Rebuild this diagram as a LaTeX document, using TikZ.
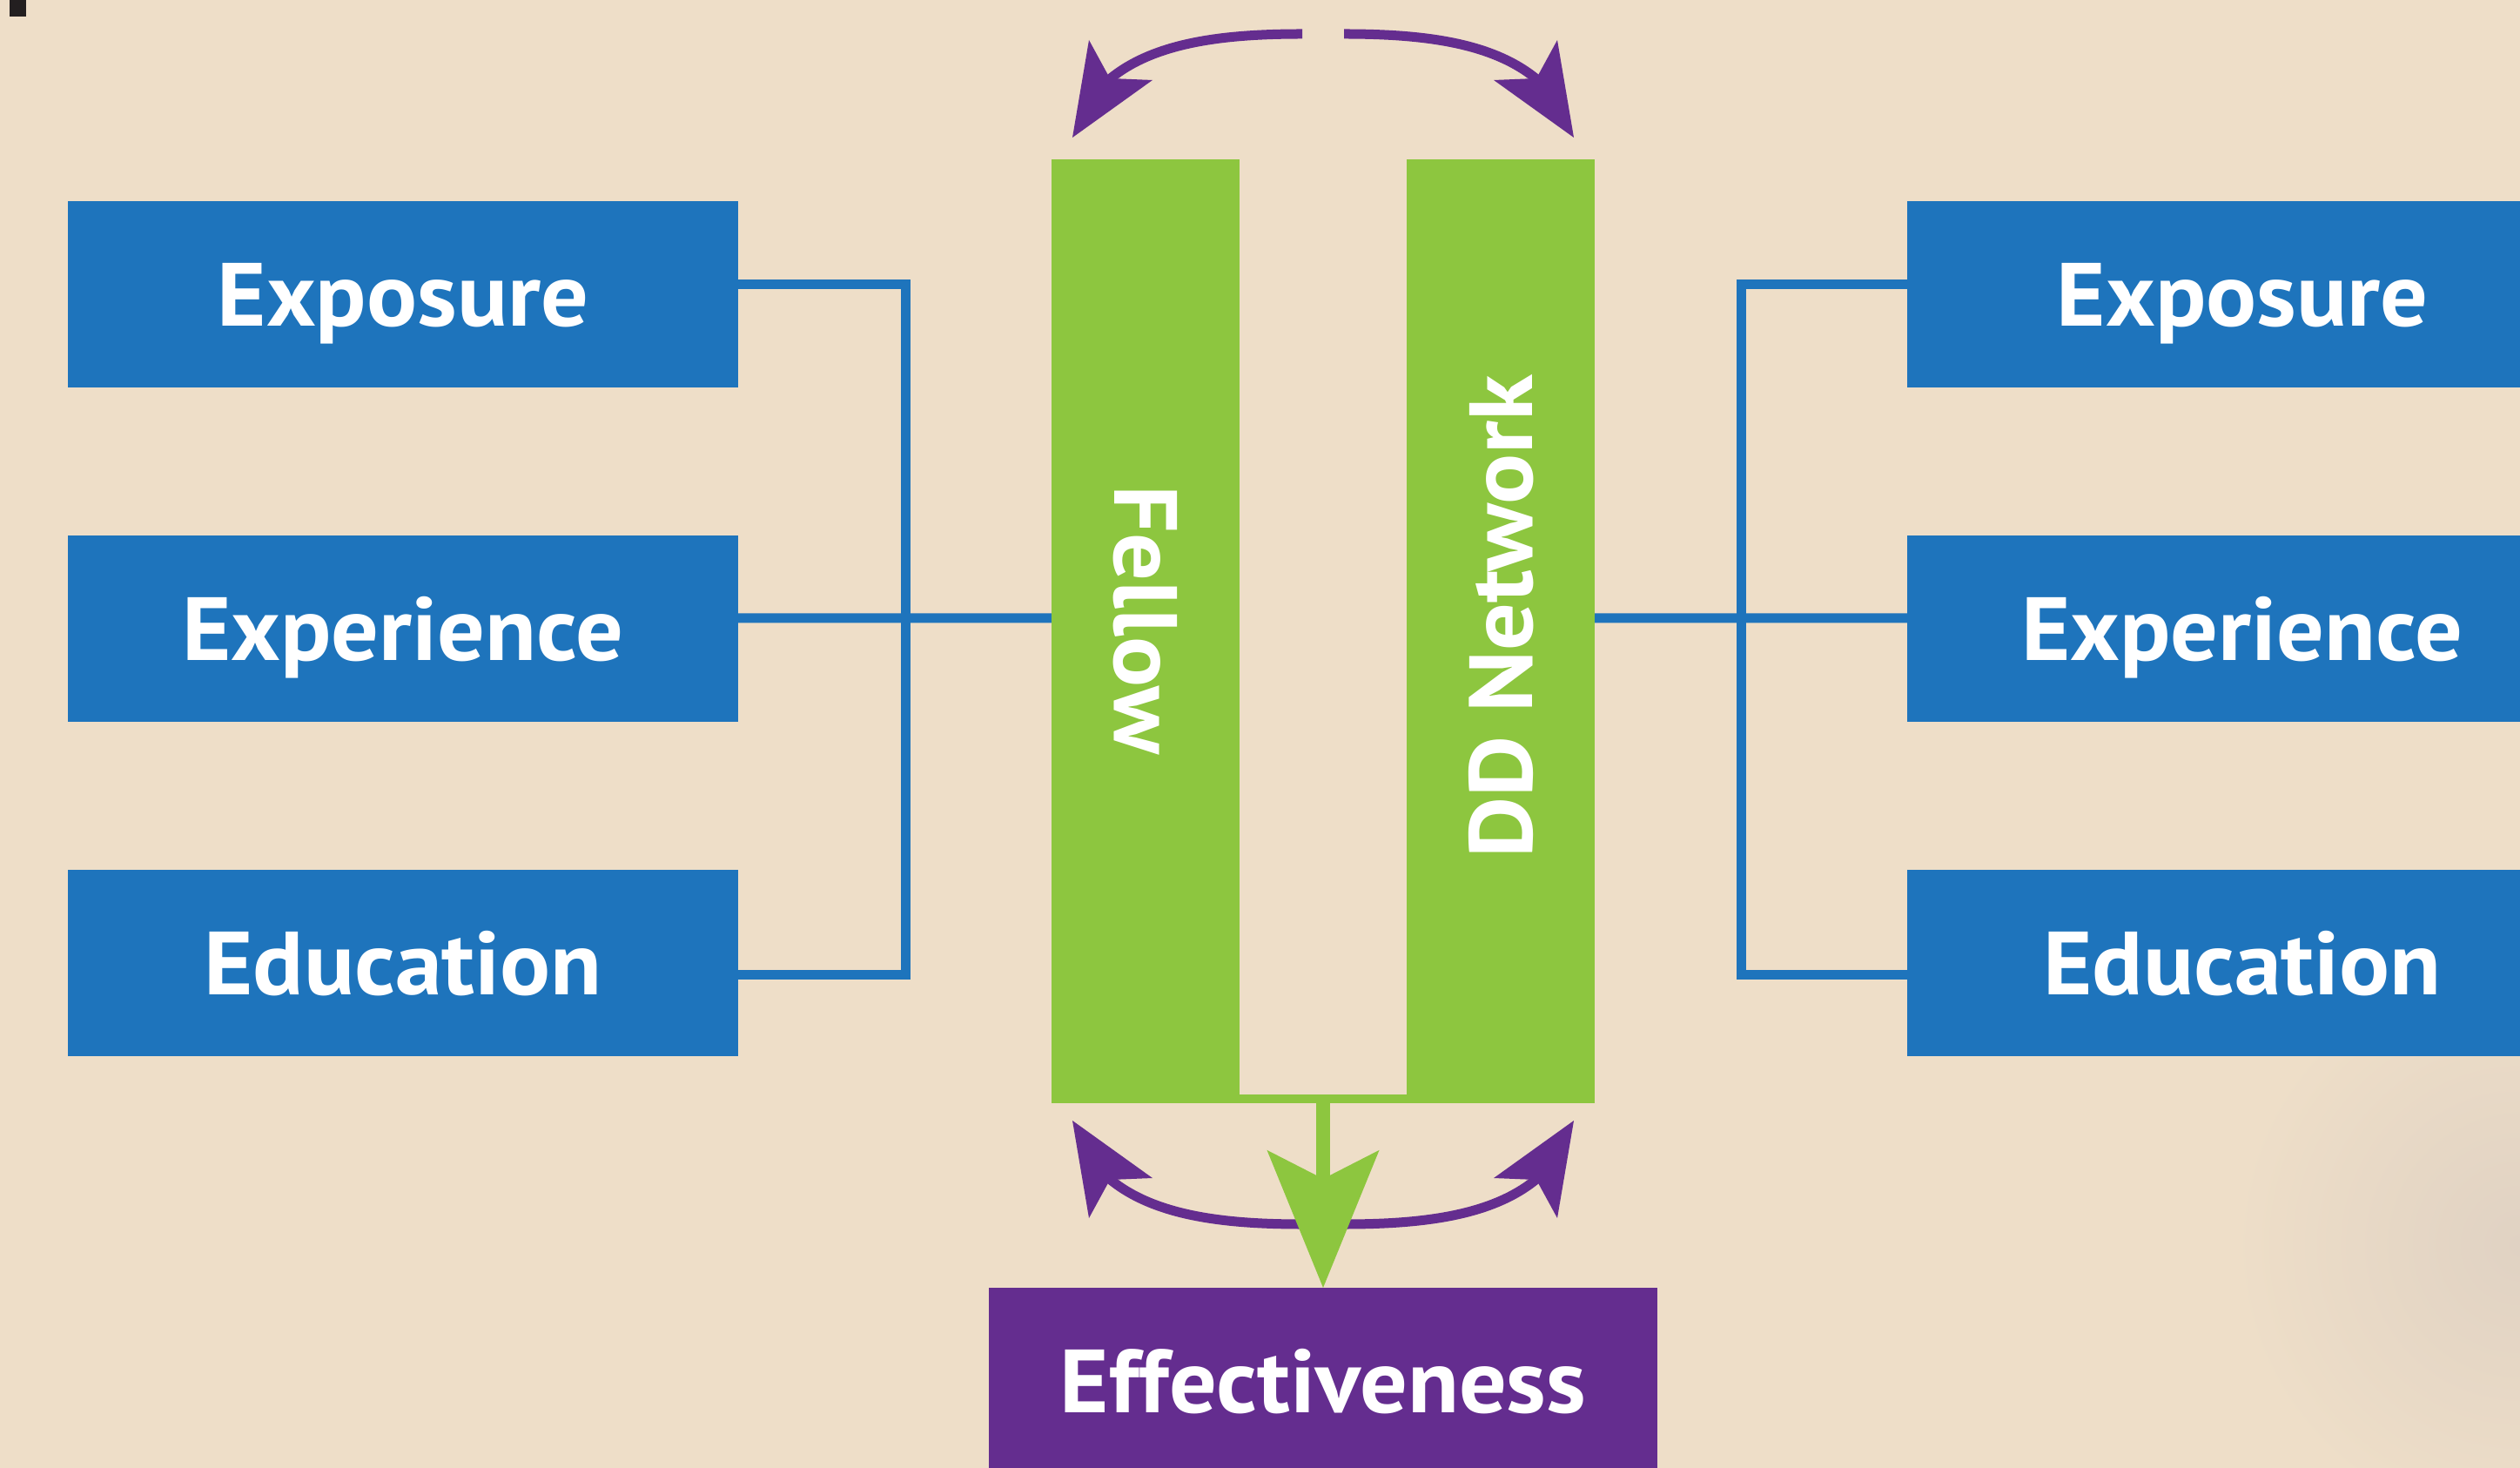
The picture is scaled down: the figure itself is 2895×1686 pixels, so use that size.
\documentclass[tikz,border=0pt]{standalone}
\usepackage{fontspec}
\setmainfont{PT Sans}[FakeStretch=1.05]
\usetikzlibrary{arrows.meta}
\definecolor{bg}{RGB}{238,222,200}
\definecolor{bgshade}{RGB}{224,210,195}
\definecolor{boxblue}{RGB}{30,116,188}
\definecolor{bargreen}{RGB}{141,198,63}
\definecolor{arcpurple}{RGB}{100,45,143}
\definecolor{markdark}{RGB}{35,31,32}
\begin{document}
\begin{tikzpicture}[x=0.01cm,y=-0.01cm,
  txt/.style={font=\fontsize{29.3}{30}\selectfont\bfseries, text=white, text height=0.72cm, text depth=0pt, inner sep=0pt},
  factor/.style={txt, fill=boxblue, minimum width=7.69cm, minimum height=2.14cm, outer sep=0pt},
  outcome/.style={txt, fill=arcpurple, minimum width=7.68cm, minimum height=2.14cm, outer sep=0pt},
  bar/.style={fill=bargreen, minimum width=2.16cm, minimum height=10.84cm, inner sep=0pt, outer sep=0pt},
  conn/.style={draw=boxblue, line width=0.11cm},
  purplearc/.style={draw=arcpurple, line width=0.11cm},
  head/.style={fill=arcpurple},
  greenarrow/.style={draw=bargreen, line width=0.16cm, -{Stealth[length=1.58cm, width=1.29cm, inset=0.33cm, line width=0pt]}},
]
\useasboundingbox (0,0) rectangle (2895,1686);
\clip (0,0) rectangle (2895,1686);
\fill[bg] (0,0) rectangle (2895,1686);
\shade[inner color=bgshade, outer color=bg] (2895,1430) circle (330);
\fill[markdark] (11,0) rectangle (30,19);

% factor boxes
\node[factor] (lexpo) at (463,338) {Exposure};
\node[factor] (lexpe) at (463,722) {Experience};
\node[factor] (ledu)  at (463,1106) {Education};
\node[factor] (rexpo) at (2576,338) {Exposure};
\node[factor] (rexpe) at (2576,722) {Experience};
\node[factor] (redu)  at (2576,1106) {Education};

% green bars
\node[bar] (fellow) at (1316,725) {};
\node[bar] (dd) at (1724,725) {};
\node[txt, rotate=-90] (fellowtxt) at (1316,712) {Fellow};
\node[txt, rotate=90] (ddtxt) at (1724,708) {DD Network};

% outcome
\node[outcome] (eff) at (1520,1586) {Effectiveness};

% junctions
\coordinate (lj) at (1040,710);
\coordinate (rj) at (2000,710);

% blue connectors
\draw[conn] ([yshift=0.11cm]lexpo.east) -| (lj) |- ([yshift=-0.13cm]ledu.east);
\draw[conn] ([yshift=0.12cm]lexpe.east) -- (fellow.west |- lj);
\draw[conn] ([yshift=0.11cm]rexpo.west) -| (rj) |- ([yshift=-0.13cm]redu.west);
\draw[conn] ([yshift=0.12cm]rexpe.west) -- (dd.east |- rj);

% green U joining the bars
\draw[bargreen, line width=0.10cm] ([yshift=0.05cm]fellow.south east) -- ([yshift=0.05cm]dd.south west);
\coordinate (stem) at (1520,1258);

% purple arcs (top)
\coordinate (tls) at (1496,39);
\coordinate (tle) at (1270,95);
\coordinate (trs) at (1544,39);
\coordinate (tre) at (1770,95);
\draw[purplearc] (tls) .. controls (1400,39) and (1320,50) .. (tle);
\fill[head] (1232,158) -- (1251,46) -- (1275,90) -- (1324,92) -- cycle;
\draw[purplearc] (trs) .. controls (1640,39) and (1720,50) .. (tre);
\fill[head] (1808,158) -- (1789,46) -- (1765,90) -- (1716,92) -- cycle;

% purple arc (bottom)
\coordinate (bls) at (1270,1350);
\coordinate (bre) at (1770,1350);
\draw[purplearc] (bls) .. controls (1320,1395) and (1400,1406) .. (1496,1406) -- (1544,1406) .. controls (1640,1406) and (1720,1395) .. (bre);
\fill[head] (1232,1287) -- (1251,1399) -- (1275,1355) -- (1324,1353) -- cycle;
\fill[head] (1808,1287) -- (1789,1399) -- (1765,1355) -- (1716,1353) -- cycle;

% green arrow to Effectiveness, over the bottom arc
\draw[greenarrow] (stem) -- (eff.north);
\end{tikzpicture}
\end{document}
